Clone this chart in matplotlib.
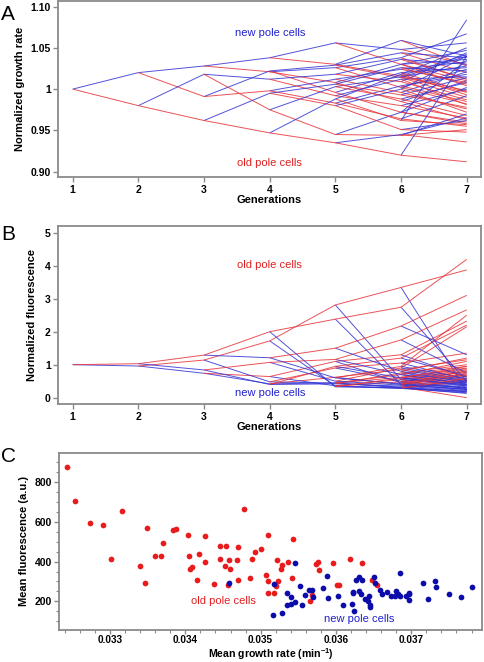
import matplotlib
matplotlib.use("Agg")
import matplotlib.pyplot as plt
from matplotlib.ticker import MultipleLocator, FixedLocator

plt.rcParams['font.family'] = ['Liberation Sans', 'DejaVu Sans']
plt.rcParams['mathtext.fontset'] = 'custom'
plt.rcParams['mathtext.rm'] = 'Liberation Sans'
plt.rcParams['mathtext.bf'] = 'Liberation Sans:bold'

# ---------------- data ----------------
generations = [1, 2, 3, 4, 5, 6, 7]

# Panel A: normalized growth rate per generation (binary lineage tree;
# children of node i are 2i = new pole, 2i+1 = old pole)
growth_g1 = [1.000]
growth_g2 = [1.020, 0.980]
growth_g3 = [1.028, 0.991, 1.018, 0.962]
growth_g4 = [1.038, 1.021, 1.022, 0.998, 1.012, 0.975, 0.995, 0.947]
growth_g5 = [1.056, 1.030, 1.026, 1.008, 1.029, 0.996, 1.012, 0.983,
             1.018, 0.992, 1.003, 0.945, 1.006, 0.980, 0.988, 0.935]
growth_g6 = [1.048, 1.030, 1.059, 1.016, 1.038, 1.002, 1.030, 0.985,
             1.044, 1.014, 1.020, 0.972, 1.024, 0.996, 1.004, 0.964,
             1.036, 1.009, 1.012, 0.980, 1.015, 0.988, 0.972, 0.944,
             1.026, 0.993, 1.000, 0.951, 1.018, 0.962, 0.945, 0.920]
growth_g7 = [1.056, 1.030, 1.047, 1.010, 1.040, 1.028, 1.042, 0.998,
             1.067, 1.012, 1.024, 0.982, 1.036, 1.004, 1.010, 0.963,
             1.038, 1.020, 1.040, 0.990, 1.026, 0.997, 1.002, 0.958,
             1.033, 1.008, 1.021, 0.976, 1.018, 0.985, 0.992, 0.955,
             1.030, 1.012, 1.044, 0.987, 1.015, 0.981, 1.000, 0.965,
             1.028, 0.996, 1.008, 0.968, 1.035, 0.960, 0.970, 0.951,
             1.022, 1.006, 1.014, 0.978, 1.040, 0.972, 0.962, 0.948,
             1.050, 0.993, 1.084, 0.957, 0.965, 0.936, 1.040, 0.912]
growth_tree = [growth_g1, growth_g2, growth_g3, growth_g4, growth_g5, growth_g6, growth_g7]

# Panel B: normalized fluorescence per generation (same tree layout)
fluo_g1 = [1.00]
fluo_g2 = [0.96, 1.03]
fluo_g3 = [0.74, 1.14, 0.84, 1.29]
fluo_g4 = [0.42, 0.64, 0.48, 1.72, 0.40, 1.07, 1.21, 2.00]
fluo_g5 = [0.45, 0.62, 0.36, 1.10, 0.44, 0.90, 0.35, 2.81,
           0.42, 0.95, 0.50, 1.16, 0.60, 1.50, 0.33, 2.38]
fluo_g6 = [0.30, 0.70, 0.40, 0.85, 0.28, 0.55, 0.45, 1.30,
           0.32, 0.62, 0.50, 1.05, 0.30, 0.48, 0.55, 3.34,
           0.35, 0.75, 0.60, 1.20, 0.38, 0.90, 0.70, 1.75,
           0.42, 0.95, 0.80, 2.17, 0.29, 0.60, 0.40, 2.74]
fluo_g7 = [0.20, 0.55, 0.40, 0.95, 0.25, 0.65, 0.50, 1.15,
           0.15, 0.48, 0.35, 0.80, 0.30, 0.72, 0.62, 2.32,
           0.18, 0.00, 0.45, 0.90, 0.28, 0.78, 0.55, 1.35,
           0.13, 0.52, 0.32, 0.70, 0.40, 0.85, 0.20, 3.87,
           0.22, 0.60, 0.48, 1.00, 0.36, 0.88, 0.65, 2.20,
           0.25, 0.68, 0.52, 2.15, 0.42, 1.10, 0.75, 2.66,
           0.30, 0.82, 0.58, 2.50, 0.46, 1.20, 1.30, 3.10,
           0.18, 0.58, 0.38, 0.95, 0.26, 0.75, 0.50, 4.19]
fluo_tree = [fluo_g1, fluo_g2, fluo_g3, fluo_g4, fluo_g5, fluo_g6, fluo_g7]

# Panel C: mean growth rate (1/min) vs mean fluorescence (a.u.)
old_rate = [0.032425, 0.03253, 0.032735, 0.032903, 0.033018, 0.033164, 0.033398,
            0.03346, 0.033496, 0.033593, 0.033681, 0.033704, 0.033836, 0.033872,
            0.034031, 0.034053, 0.034066, 0.034084, 0.034155, 0.034181, 0.034265,
            0.034265, 0.034385, 0.034465, 0.034465, 0.03454, 0.034531, 0.034566,
            0.034584, 0.034593, 0.034695, 0.03469, 0.034695, 0.034779, 0.034854,
            0.03489, 0.034925, 0.035004, 0.035071, 0.035093, 0.035097, 0.035102,
            0.035181, 0.035212, 0.035204, 0.035226, 0.035279, 0.035274, 0.035363,
            0.03542, 0.035434, 0.035655, 0.035686, 0.035739, 0.035765, 0.035774,
            0.035965, 0.036009, 0.036044, 0.036186, 0.036341, 0.036473, 0.03654]
old_fluo = [876, 704, 593, 585, 415, 655, 378, 291, 568, 427, 427, 492, 558, 565,
            536, 427, 365, 373, 308, 439, 528, 398, 286, 477, 412, 477, 380, 282,
            410, 365, 476, 407, 309, 667, 318, 415, 447, 466, 334, 534, 304, 242,
            244, 408, 277, 303, 385, 365, 398, 319, 514, 203, 234, 387, 397, 358,
            395, 281, 282, 415, 392, 308, 281]
new_rate = [0.034575, 0.035159, 0.035181, 0.035279, 0.035354, 0.035354, 0.035398,
            0.035403, 0.035451, 0.035456, 0.035527, 0.035544, 0.035588, 0.035646,
            0.035686, 0.03569, 0.035823, 0.035885, 0.035894, 0.036022, 0.036097,
            0.036208, 0.036221, 0.036243, 0.03623, 0.03627, 0.036301, 0.03631,
            0.036345, 0.036327, 0.036381, 0.036429, 0.036442, 0.036447, 0.036451,
            0.036504, 0.036518, 0.03658, 0.036606, 0.036677, 0.03673, 0.036783,
            0.036801, 0.036827, 0.036854, 0.03685, 0.036925, 0.036969, 0.036969,
            0.036973, 0.03715, 0.037221, 0.037319, 0.037323, 0.037496, 0.037659,
            0.037805]
new_fluo = [292, 131, 287, 143, 240, 183, 220, 187, 393, 198, 279, 180, 234, 255,
            255, 224, 266, 328, 215, 225, 181, 187, 245, 150, 244, 309, 323, 254,
            306, 235, 213, 202, 227, 183, 170, 323, 292, 259, 235, 245, 229, 229,
            252, 239, 343, 229, 229, 244, 207, 235, 294, 212, 303, 271, 239, 220,
            271]

# ---------------- style ----------------
RED_LINE = '#e8343a'
BLUE_LINE = '#3434d4'
RED_DOT = '#e81c1c'
BLUE_DOT = '#0c0caa'
SPINE = '#8a8a8a'

W, H = 484, 662
fig = plt.figure(figsize=(W / 100, H / 100), dpi=100)


def add_ax(left, top, right, bottom):
    return fig.add_axes([left / W, 1 - bottom / H, (right - left) / W, (bottom - top) / H])


def style_ax(ax):
    for s in ax.spines.values():
        s.set_color(SPINE)
        s.set_linewidth(1.3)
    ax.tick_params(direction='out', length=3.5, width=1.0, color=SPINE,
                   labelsize=7.5, pad=2)
    ax.tick_params(which='minor', direction='out', length=2.5, width=0.8, color=SPINE)
    for lab in ax.get_xticklabels() + ax.get_yticklabels():
        lab.set_fontweight('bold')


def draw_tree(ax, tree):
    for g in range(len(tree) - 1):
        parents = tree[g]
        children = tree[g + 1]
        for i, pv in enumerate(parents):
            for k, col in ((0, BLUE_LINE), (1, RED_LINE)):
                cv = children[2 * i + k]
                ax.plot([generations[g], generations[g + 1]], [pv, cv],
                        color=col, lw=0.7, alpha=0.85, solid_capstyle='butt')


# Panel A
axA = add_ax(58.3, 0.5, 480.7, 177)
draw_tree(axA, growth_tree)
axA.set_xlim(0.781, 7.213)
axA.set_ylim(0.8936, 1.1073)
axA.set_xticks(generations)
axA.set_yticks([0.90, 0.95, 1.0, 1.05, 1.10])
axA.set_yticklabels(['0.90', '0.95', '1', '1.05', '1.10'])
style_ax(axA)
axA.set_xlabel('Generations', fontsize=8, fontweight='bold', labelpad=0)
axA.set_ylabel('Normalized growth rate', fontsize=8, fontweight='bold', labelpad=4)
axA.text(4.0, 1.068, 'new pole cells', color='#2020d0', fontsize=8, ha='center', va='center')
axA.text(4.0, 0.910, 'old pole cells', color='#e02020', fontsize=8, ha='center', va='center')
fig.text(1 / W, 1 - 14 / H, 'A', fontsize=15, ha='left', va='center')

# Panel B
axB = add_ax(58.3, 225.7, 480.7, 404.3)
draw_tree(axB, fluo_tree)
axB.set_xlim(0.781, 7.213)
axB.set_ylim(-0.2, 5.21)
axB.set_xticks(generations)
axB.set_yticks([0, 1, 2, 3, 4, 5])
style_ax(axB)
axB.set_xlabel('Generations', fontsize=8, fontweight='bold', labelpad=0)
axB.set_ylabel('Normalized fluorescence', fontsize=8, fontweight='bold', labelpad=6)
axB.text(4.0, 4.02, 'old pole cells', color='#e02020', fontsize=8, ha='center', va='center')
axB.text(4.0, 0.13, 'new pole cells', color='#2020d0', fontsize=8, ha='center', va='center')
fig.text(1 / W, 1 - 235 / H, 'B', fontsize=15, ha='left', va='center')

# Panel C
axC = add_ax(59.3, 452.7, 481.7, 630.3)
axC.scatter(old_rate, old_fluo, s=17, color=RED_DOT, linewidths=0, zorder=3)
axC.scatter(new_rate, new_fluo, s=17, color=BLUE_DOT, linewidths=0, zorder=3)
axC.set_xlim(0.032327, 0.037935)
axC.set_ylim(54, 949)
axC.xaxis.set_major_locator(FixedLocator([0.033, 0.034, 0.035, 0.036, 0.037]))
axC.set_xticklabels(['0.033', '0.034', '0.035', '0.036', '0.037'])
axC.xaxis.set_minor_locator(MultipleLocator(0.0002))
axC.yaxis.set_major_locator(FixedLocator([200, 400, 600, 800]))
axC.yaxis.set_minor_locator(MultipleLocator(50))
style_ax(axC)
axC.tick_params(axis='x', which='major', pad=0.8, length=2.8, labelsize=7.2)
axC.tick_params(axis='x', which='minor', length=2.0)
axC.set_ylabel('Mean fluorescence (a.u.)', fontsize=8, fontweight='bold', labelpad=4)
fig.text((59.3 + 481.7) / 2 / W, 0.5 / H, r'Mean growth rate (min$^{\mathbf{-1}}$)',
         fontsize=7.6, fontweight='bold', ha='center', va='bottom')
axC.text(0.0345, 200, 'old pole cells', color='#e02020', fontsize=8, ha='center', va='center')
axC.text(0.03631, 109, 'new pole cells', color='#2020d0', fontsize=8, ha='center', va='center')
fig.text(1 / W, 1 - 457 / H, 'C', fontsize=15, ha='left', va='center')

fig.savefig('out.png', dpi=100)
